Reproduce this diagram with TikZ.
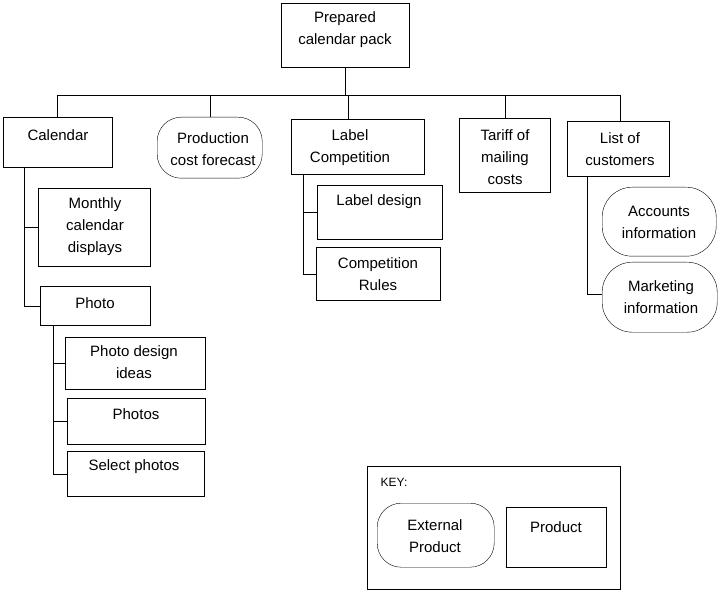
\documentclass[tikz,border=0pt]{standalone}
\usepackage{fontspec}
\setmainfont{Liberation Sans}
\begin{document}
\tikzset{
  box/.style={draw, thin, inner sep=0, anchor=north west},
  ext/.style={box, rounded corners=24pt},
  txt/.style={font=\fontsize{15}{22}\selectfont, align=center, inner sep=0}
}
\begin{tikzpicture}[x=1pt, y=-1pt]
  \useasboundingbox (0,0) rectangle (723,596);
  % boxes
  \node[box, minimum width=128pt, minimum height=64pt] (top) at (281,3) {};
  \node[box, minimum width=109pt, minimum height=50pt] (cal) at (3,117) {};
  \node[ext, minimum width=105pt, minimum height=61pt] (prod) at (157,117) {};
  \node[box, minimum width=133pt, minimum height=55pt] (lab) at (291,119) {};
  \node[box, minimum width=91pt, minimum height=74pt] (tar) at (459,118) {};
  \node[box, minimum width=102pt, minimum height=55pt] (lst) at (567,121) {};
  \node[box, minimum width=112pt, minimum height=78pt] (mon) at (38,188) {};
  \node[box, minimum width=110pt, minimum height=39pt] (pho) at (40,286) {};
  \node[box, minimum width=140pt, minimum height=52pt] (pdi) at (65,337) {};
  \node[box, minimum width=138pt, minimum height=46pt] (phs) at (67,398) {};
  \node[box, minimum width=137pt, minimum height=45pt] (sel) at (67,451) {};
  \node[box, minimum width=125pt, minimum height=54pt] (ld) at (317,185) {};
  \node[box, minimum width=124pt, minimum height=53pt] (cr) at (316,247) {};
  \node[ext, rounded corners=30pt, minimum width=114pt, minimum height=69pt] (acc) at (602,187) {};
  \node[ext, rounded corners=30pt, minimum width=115pt, minimum height=70pt] (mkt) at (602,262) {};
  \node[box, minimum width=253pt, minimum height=123pt] (key) at (367,466) {};
  \node[ext, minimum width=117pt, minimum height=64pt] (kext) at (377,503) {};
  \node[box, minimum width=100pt, minimum height=60pt] (kprod) at (506,507) {};
  % texts
  \node[txt] at (345,30) {Prepared\\calendar pack};
  \node[txt] at (58,135) {Calendar};
  \node[txt] at (213,149) {Production\\cost forecast};
  \node[txt] at (350,148) {Label\\Competition};
  \node[txt] at (505,157) {Tariff of\\mailing\\costs};
  \node[txt] at (620,149) {List of\\customers};
  \node[txt] at (95,227) {Monthly\\calendar\\displays};
  \node[txt] at (95,303) {Photo};
  \node[txt] at (134,362) {Photo design\\ideas};
  \node[txt] at (136,414) {Photos};
  \node[txt] at (134,467) {Select photos};
  \node[txt] at (379,202) {Label design};
  \node[txt] at (378,274) {Competition\\Rules};
  \node[txt] at (659,222) {Accounts\\information};
  \node[txt] at (661,297) {Marketing\\information};
  \node[txt, font=\fontsize{12}{14}\selectfont] at (394,482) {KEY:};
  \node[txt] at (435,536) {External\\Product};
  \node[txt] at (556,527) {Product};
  % connectors
  \coordinate (bl) at (57,95);
  \coordinate (br) at (620,95);
  \draw (top.south) -- (top.south |- bl);
  \draw (bl) -- (br);
  \draw (bl) -- (bl |- cal.north);
  \draw (prod.north |- bl) -- (prod.north);
  \draw ([xshift=-9.5pt]lab.north |- bl) -- ([xshift=-9.5pt]lab.north);
  \draw (tar.north |- bl) -- (tar.north);
  \draw (br) -- (br |- lst.north);
  \draw ([xshift=-33.5pt]cal.south) |- (mon.west);
  \draw ([xshift=-33.5pt]cal.south) |- (pho.west);
  \draw ([xshift=-42pt]pho.south) |- (pdi.west);
  \draw ([xshift=-42pt]pho.south) |- (phs.west);
  \draw ([xshift=-42pt]pho.south) |- (sel.west);
  \draw ([xshift=-54.5pt]lab.south) |- (ld.west);
  \draw ([xshift=-54.5pt]lab.south) |- (cr.west);
  \draw ([xshift=-31pt]lst.south) |- ([yshift=3pt]mkt.west);
\end{tikzpicture}
\end{document}
